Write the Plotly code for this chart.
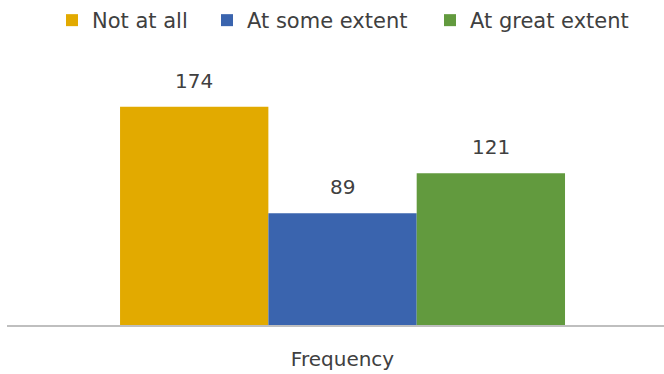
import plotly.graph_objects as go

categories = ["Frequency"]
series_names = ["Not at all", "At some extent", "At great extent"]
series_values = [[174], [89], [121]]
series_colors = ["#E2AA00", "#3A64AE", "#629A3E"]

FONT = "DejaVu Sans"
TEXT_COLOR = "#404040"
W, H = 664, 374

# each series gets its own legend so the entries can be spaced freely
legend_ids = ["legend", "legend2", "legend3"]
legend_left_px = [52, 207, 430]

fig = go.Figure()
for name, vals, color, lid in zip(series_names, series_values, series_colors, legend_ids):
    fig.add_trace(go.Bar(
        name=name,
        x=categories,
        y=vals,
        marker=dict(color=color, line=dict(width=0)),
        legend=lid,
    ))

# value labels sitting above each bar in the group
n = len(series_names)
bargap = 0.3227
group_w = 1 - bargap
bar_w = group_w / n
for i, (name, vals) in enumerate(zip(series_names, series_values)):
    for j, v in enumerate(vals):
        xc = j - group_w / 2 + bar_w * (i + 0.5)
        fig.add_annotation(
            x=xc, y=v, xref="x", yref="y",
            text=str(v), showarrow=False,
            yanchor="bottom", yshift=12,
            font=dict(family=FONT, size=20, color=TEXT_COLOR),
        )

legend_style = dict(
    orientation="h", xref="container", yref="container",
    xanchor="left", yanchor="top", y=1.0,
    font=dict(family=FONT, size=21, color=TEXT_COLOR),
    bgcolor="rgba(0,0,0,0)",
)

fig.update_layout(
    width=W, height=H,
    margin=dict(l=7, r=0, t=60, b=49),
    paper_bgcolor="white", plot_bgcolor="white",
    barmode="group", bargap=bargap, bargroupgap=0,
    showlegend=True,
    xaxis=dict(
        type="category",
        range=[-0.5107, 0.4893],
        showline=True, linecolor="#BFBFBF", linewidth=1.5,
        showgrid=False, zeroline=False,
        ticks="", ticklabelstandoff=15,
        tickfont=dict(family=FONT, size=20, color=TEXT_COLOR),
    ),
    yaxis=dict(
        range=[0, 211.2],
        visible=False, showgrid=False, zeroline=False,
    ),
)
for lid, px in zip(legend_ids, legend_left_px):
    fig.update_layout({lid: dict(legend_style, x=px / W)})

fig.write_html("out.html")
